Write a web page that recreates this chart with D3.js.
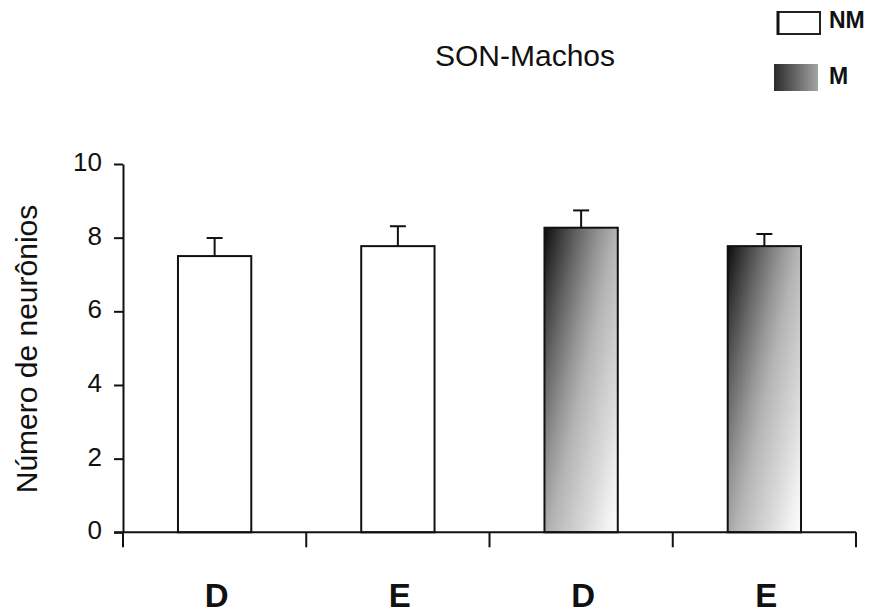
<!DOCTYPE html>
<html>
<head>
<meta charset="utf-8">
<script src="https://cdn.jsdelivr.net/npm/d3@7"></script>
<style>
  html, body { margin: 0; padding: 0; background: #fff; }
  svg { display: block; }
  text { font-family: "Liberation Sans", Arial, sans-serif; fill: #111; }
</style>
</head>
<body>
<svg id="chart" width="876" height="614"></svg>
<script>
// ---- data ----
const categories = ["D", "E", "D", "E"];
const groups = ["NM", "NM", "M", "M"];
const means = [7.5, 7.77, 8.27, 7.77];
const errors = [0.49, 0.54, 0.47, 0.33];
const yTicks = [0, 2, 4, 6, 8, 10];
const legendLabels = ["NM", "M"];
const title = "SON-Machos";
const yLabel = "Número de neurônios";

// ---- layout ----
const svg = d3.select("#chart");
const x0 = 123, x1 = 856, yBase = 532.3, yTop = 164;

const x = d3.scaleBand()
  .domain(d3.range(categories.length))
  .range([x0, x1])
  .paddingInner(0).paddingOuter(0);
const y = d3.scaleLinear().domain([0, 10]).range([yBase, yTop]);
const barW = x.bandwidth() * 0.4;

const defs = svg.append("defs");

// gradient for "M" bars: dark top-left to light bottom-right with slanted isolines
const ux = 0.976, uy = 0.216;
const gradStops = [
  [0, "#0c0c0c"], [0.12, "#3a3a3a"], [0.26, "#6a6a6a"], [0.4, "#959595"],
  [0.52, "#b4b4b4"], [0.66, "#cacaca"], [0.78, "#dcdcdc"], [0.9, "#f0f0f0"], [1, "#fdfdfd"]
];
means.forEach((v, i) => {
  if (groups[i] !== "M") return;
  const bx = x(i) + (x.bandwidth() - barW) / 2;
  const by = y(v);
  const h = yBase - by;
  const L = barW * ux + h * uy;
  const g = defs.append("linearGradient")
    .attr("id", "grad" + i)
    .attr("gradientUnits", "userSpaceOnUse")
    .attr("x1", bx).attr("y1", by)
    .attr("x2", bx + L * ux).attr("y2", by + L * uy);
  gradStops.forEach(([o, c]) => g.append("stop").attr("offset", o).attr("stop-color", c));
});

const legGrad = defs.append("linearGradient").attr("id", "legGrad")
  .attr("x1", 0).attr("y1", 0).attr("x2", 1).attr("y2", 0);
legGrad.append("stop").attr("offset", 0).attr("stop-color", "#2a2a2a");
legGrad.append("stop").attr("offset", 1).attr("stop-color", "#a4a4a4");

// ---- bars ----
const bars = svg.append("g");
bars.selectAll("rect")
  .data(means)
  .join("rect")
  .attr("x", (d, i) => x(i) + (x.bandwidth() - barW) / 2)
  .attr("y", d => y(d))
  .attr("width", barW)
  .attr("height", d => yBase - y(d))
  .attr("fill", (d, i) => groups[i] === "M" ? `url(#grad${i})` : "#fff")
  .attr("stroke", "#111")
  .attr("stroke-width", 2);

// ---- error bars ----
const eb = svg.append("g").attr("stroke", "#111").attr("stroke-width", 2);
means.forEach((v, i) => {
  const cx = x(i) + x.bandwidth() / 2;
  eb.append("line").attr("x1", cx).attr("x2", cx).attr("y1", y(v)).attr("y2", y(v + errors[i]));
  eb.append("line").attr("x1", cx - 8).attr("x2", cx + 8).attr("y1", y(v + errors[i])).attr("y2", y(v + errors[i]));
});

// ---- y axis ----
const yAxis = svg.append("g")
  .attr("transform", `translate(${x0},0)`)
  .call(d3.axisLeft(y).tickValues(yTicks).tickSize(9).tickSizeOuter(0).tickPadding(12)
    .tickFormat(d3.format("d")));
yAxis.select(".domain").attr("stroke", "#111").attr("stroke-width", 2);
yAxis.selectAll(".tick line").attr("stroke", "#111").attr("stroke-width", 2);
yAxis.selectAll(".tick text")
  .attr("font-size", 26)
  .attr("font-family", "'Liberation Sans', Arial, sans-serif")
  .attr("fill", "#222")
  .attr("dy", "0.25em");

// ---- x axis ----
const xAxisG = svg.append("g");
xAxisG.append("line")
  .attr("x1", x0 - 9).attr("x2", x1).attr("y1", yBase).attr("y2", yBase)
  .attr("stroke", "#111").attr("stroke-width", 2);
const tickXs = d3.range(categories.length + 1).map(i => i < categories.length ? x(i) : x1);
xAxisG.selectAll("line.xt")
  .data(tickXs)
  .join("line")
  .attr("class", "xt")
  .attr("x1", d => d).attr("x2", d => d)
  .attr("y1", yBase).attr("y2", yBase + 15)
  .attr("stroke", "#111").attr("stroke-width", 2);
xAxisG.selectAll("text")
  .data(categories)
  .join("text")
  .attr("x", (d, i) => x(i) + x.bandwidth() / 2 + 2)
  .attr("y", 607)
  .attr("text-anchor", "middle")
  .attr("font-size", 33)
  .attr("font-weight", "bold")
  .text(d => d);

// ---- y label ----
svg.append("text")
  .attr("transform", "translate(37,349) rotate(-90)")
  .attr("text-anchor", "middle")
  .attr("font-size", 30)
  .attr("fill", "#222")
  .text(yLabel);

// ---- title ----
svg.append("text")
  .attr("x", 525).attr("y", 66)
  .attr("text-anchor", "middle")
  .attr("font-size", 30)
  .attr("fill", "#222")
  .text(title);

// ---- legend ----
const leg = svg.append("g");
leg.append("rect").attr("x", 778).attr("y", 12).attr("width", 42).attr("height", 22)
  .attr("fill", "#fff").attr("stroke", "#222").attr("stroke-width", 2);
leg.append("line").attr("x1", 778).attr("x2", 778).attr("y1", 11).attr("y2", 35)
  .attr("stroke", "#111").attr("stroke-width", 3);
leg.append("rect").attr("x", 774).attr("y", 64).attr("width", 44).attr("height", 27)
  .attr("fill", "url(#legGrad)");
leg.selectAll("text")
  .data(legendLabels)
  .join("text")
  .attr("x", 829)
  .attr("y", (d, i) => i === 0 ? 28 : 84)
  .attr("font-size", 23)
  .attr("font-weight", "bold")
  .text(d => d);
</script>
</body>
</html>
